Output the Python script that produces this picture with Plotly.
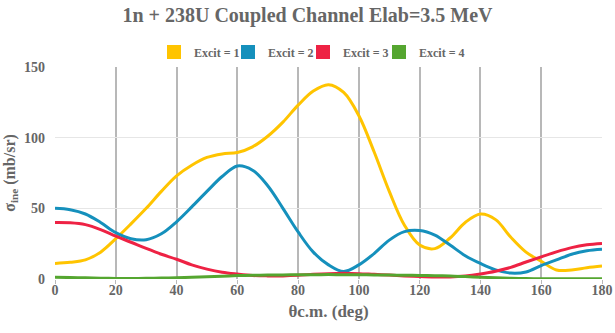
import plotly.graph_objects as go

angles = [0, 5, 10, 15, 20, 25, 30, 35, 40, 45, 50, 55, 60, 65, 70, 75, 80, 85, 90,
          95, 100, 105, 110, 115, 120, 125, 130, 135, 140, 145, 150, 155, 160, 165,
          170, 175, 180]

excit1 = [11, 11.8, 13.5, 19, 28.5, 39, 50, 62, 73, 80.5, 86, 88.5, 89.5, 93.5, 101,
          111, 123, 133, 137.5, 132, 115.5, 90, 62, 38, 24, 21.5, 29, 40, 46, 42,
          29.5, 19, 12.5, 6.4, 6.4, 8, 9.2]
excit2 = [50, 49, 46, 40, 32.8, 28.5, 27.8, 32, 40.5, 51, 62, 72.5, 80, 77, 66, 50,
          33.3, 19, 10, 5.3, 10, 18, 27.5, 33.5, 34.3, 31, 24, 16.5, 11, 6.5, 4.2, 5,
          9.5, 13.5, 17.5, 20, 21.1]
excit3 = [40, 39.8, 38.5, 35, 30.3, 26, 21.6, 17.5, 14, 10, 7, 4.8, 3.5, 2.5, 2.2,
          2.2, 2.6, 3.3, 3.8, 4, 3.8, 3.3, 2.8, 2.2, 1.7, 1.4, 1.5, 2.2, 3.6, 5.5,
          8.2, 12, 15.7, 19.2, 22.2, 24.2, 25.2]
excit4 = [1.3, 1.0, 0.8, 0.6, 0.4, 0.4, 0.5, 0.7, 0.9, 1.2, 1.6, 2.0, 2.4, 2.6, 2.8,
          2.9, 3.0, 3.05, 3.1, 3.05, 3.0, 2.9, 2.8, 2.65, 2.5, 2.3, 2.1, 1.7, 1.3,
          0.9, 0.5, 0.3, 0.2, 0.15, 0.1, 0.1, 0.1]

series_names = ["Excit = 1", "Excit = 2", "Excit = 3", "Excit = 4"]
series_values = [excit1, excit2, excit3, excit4]
colors = ["#FFC400", "#1590BC", "#EE2244", "#55A630"]

x_ticks = [0, 20, 40, 60, 80, 100, 120, 140, 160, 180]
y_ticks = [0, 50, 100, 150]

FONT = "Liberation Serif"
GREY = "#666666"

W, H = 615, 333
ML, MR, MT, MB = 55, 13, 67, 54
PW = W - ML - MR
PH = H - MT - MB

fig = go.Figure()
for name, vals, col in zip(series_names, series_values, colors):
    fig.add_trace(go.Scatter(
        x=angles, y=vals, mode="lines", name=name,
        line=dict(color=col, width=3, shape="spline", smoothing=1.0),
        showlegend=False, hoverinfo="x+y+name",
    ))

# one legend per series, laid out in a row like the original
legend_left_px = [154, 228, 303, 379]
legend_layouts = {}
for i, (name, col) in enumerate(zip(series_names, colors)):
    lname = "legend" if i == 0 else f"legend{i + 1}"
    fig.add_trace(go.Scatter(
        x=[None], y=[None], mode="markers", name=name,
        marker=dict(symbol="square", size=14, color=col),
        showlegend=True, legend=lname,
    ))
    legend_layouts[lname] = dict(
        orientation="h", x=(legend_left_px[i] - ML) / PW, xanchor="left",
        y=(H - MB - 52) / PH, yanchor="middle", bgcolor="rgba(0,0,0,0)",
        font=dict(family=FONT, size=12, color=GREY, weight="bold"),
        itemwidth=30, itemclick=False, itemdoubleclick=False,
    )

fig.update_layout(
    width=W, height=H,
    margin=dict(l=ML, r=MR, t=MT, b=MB),
    paper_bgcolor="white", plot_bgcolor="white",
    font=dict(family=FONT, color=GREY, size=13, weight="bold"),
    title=dict(text="1n + 238U Coupled Channel Elab=3.5 MeV",
               x=0.5, xanchor="center", y=1 - 15 / H, yanchor="middle",
               yref="container",
               font=dict(family=FONT, size=20, color=GREY, weight="bold")),
    xaxis=dict(range=[0, 180], tickvals=x_ticks, showgrid=True, automargin=False,
               gridcolor="#b8b8b8", gridwidth=1.6, zeroline=False,
               showline=False, ticks="outside", ticklen=4, tickcolor="#b8b8b8",
               ticklabelstandoff=-6,
               tickfont=dict(family=FONT, size=14, color=GREY, weight="bold"),
               title=dict(text="θc.m. (deg)", standoff=8,
                          font=dict(family=FONT, size=17, color=GREY, weight="bold"))),
    yaxis=dict(range=[0, 150], tickvals=y_ticks, showgrid=True, automargin=False,
               gridcolor="#e6e6e6", gridwidth=1, zeroline=False,
               showline=False, ticks="", ticklabelstandoff=9,
               tickfont=dict(family=FONT, size=14, color=GREY, weight="bold"),
               title=dict(text="σ<sub>ine</sub> (mb/sr)", standoff=4,
                          font=dict(family=FONT, size=16, color=GREY, weight="bold"))),
    **legend_layouts,
)

fig.write_html("out.html", config={"displayModeBar": False},
               post_script="document.body.style.margin='0';document.body.style.padding='0';")
